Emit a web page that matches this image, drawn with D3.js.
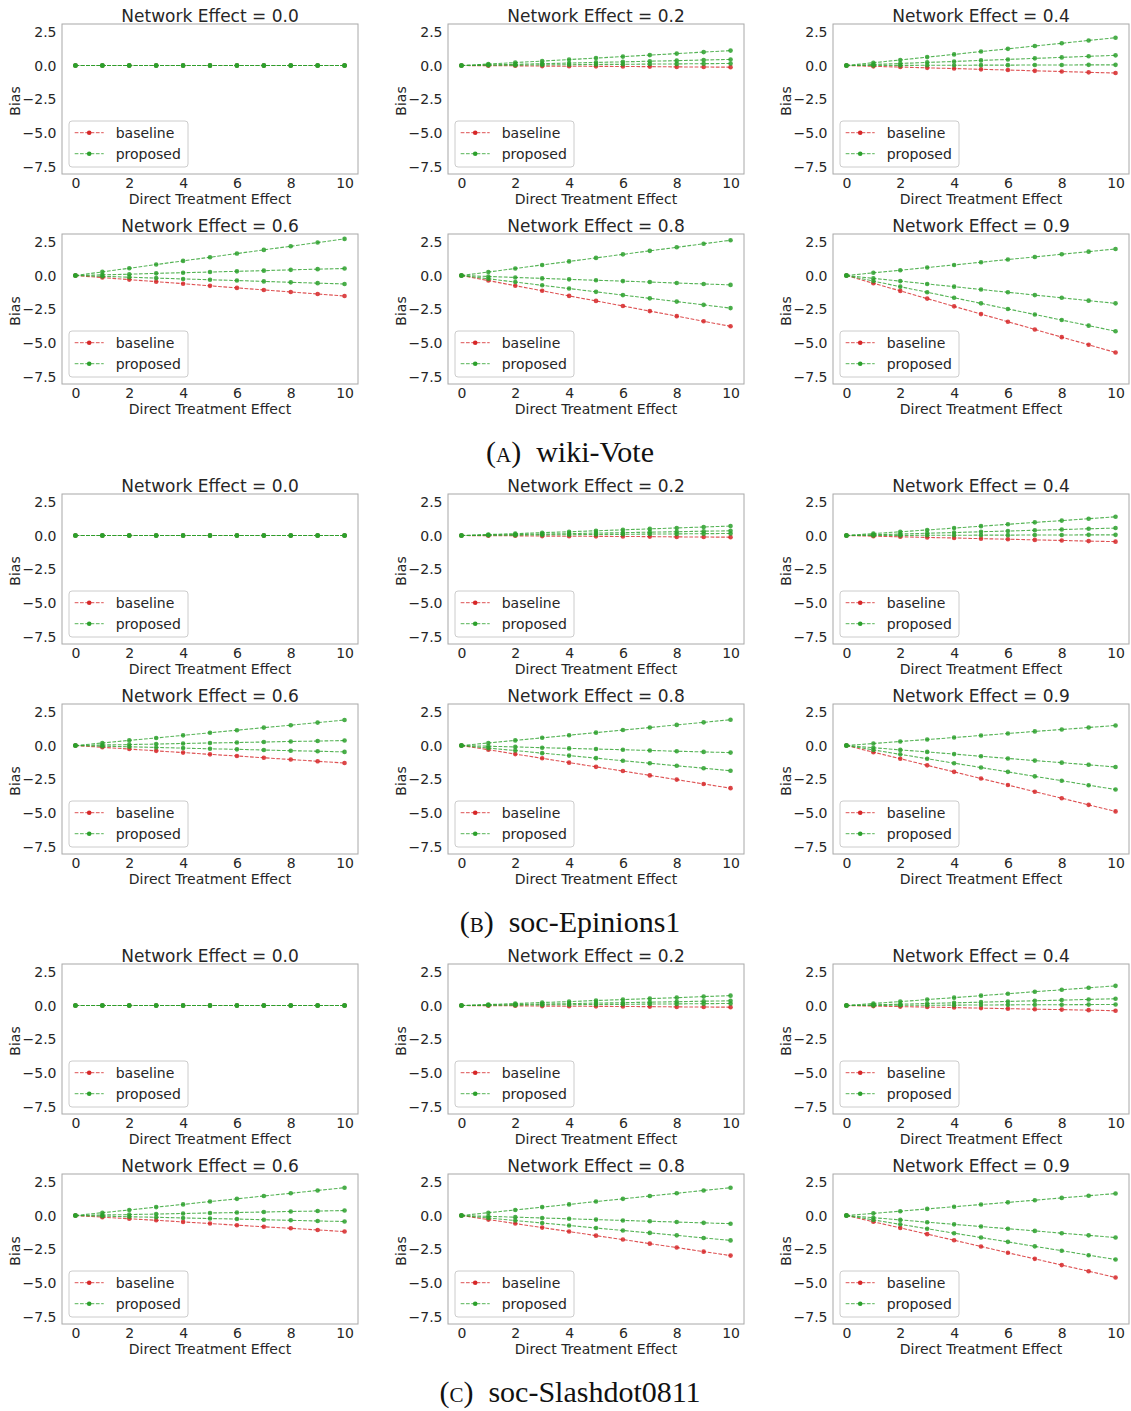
<!DOCTYPE html>
<html>
<head>
<meta charset="utf-8">
<script src="https://cdn.jsdelivr.net/npm/d3@7"></script>
<style>
  body { margin: 0; background: #fff; }
  svg { display: block; }
</style>
</head>
<body>
<div id="chart"></div>
<script>
// Data

var xValues = [0, 1, 2, 3, 4, 5, 6, 7, 8, 9, 10];
var xTicks = [0, 2, 4, 6, 8, 10];
var yTicks = [-7.5, -5.0, -2.5, 0.0, 2.5];
var networkEffects = ["0.0", "0.2", "0.4", "0.6", "0.8", "0.9"];
var datasetNames = ["wiki-Vote", "soc-Epinions1", "soc-Slashdot0811"];
var datasetLetters = ["a", "b", "c"];

var zeros = [0, 0, 0, 0, 0, 0, 0, 0, 0, 0, 0];

// baseline: one series per network effect
var wikiVoteBaseline = [
    zeros,
    [0, -0.01, -0.02, -0.04, -0.05, -0.06, -0.07, -0.08, -0.10, -0.11, -0.12],
    [0, -0.06, -0.11, -0.17, -0.22, -0.28, -0.33, -0.39, -0.44, -0.50, -0.55],
    [0, -0.15, -0.30, -0.45, -0.60, -0.76, -0.91, -1.06, -1.21, -1.36, -1.51],
    [0, -0.37, -0.75, -1.12, -1.50, -1.87, -2.24, -2.62, -2.99, -3.37, -3.74],
    [0, -0.57, -1.13, -1.70, -2.27, -2.84, -3.40, -3.97, -4.54, -5.10, -5.67]
];
// proposed: three series per network effect
var wikiVoteProposed = [
    [zeros, zeros, zeros],
    [
        [0, 0.11, 0.22, 0.33, 0.44, 0.55, 0.66, 0.77, 0.88, 0.99, 1.10],
        [0, 0.05, 0.09, 0.14, 0.18, 0.23, 0.27, 0.32, 0.36, 0.41, 0.45],
        [0, 0.02, 0.03, 0.05, 0.06, 0.08, 0.09, 0.11, 0.12, 0.14, 0.15]
    ],
    [
        [0, 0.21, 0.41, 0.62, 0.82, 1.03, 1.23, 1.44, 1.64, 1.85, 2.05],
        [0, 0.08, 0.15, 0.23, 0.30, 0.38, 0.45, 0.53, 0.60, 0.68, 0.75],
        [0, 0.01, 0.01, 0.02, 0.02, 0.03, 0.03, 0.04, 0.04, 0.05, 0.05]
    ],
    [
        [0, 0.27, 0.54, 0.81, 1.08, 1.35, 1.62, 1.89, 2.16, 2.43, 2.70],
        [0, 0.05, 0.10, 0.16, 0.21, 0.26, 0.31, 0.36, 0.42, 0.47, 0.52],
        [0, -0.06, -0.12, -0.19, -0.25, -0.31, -0.37, -0.43, -0.50, -0.56, -0.62]
    ],
    [
        [0, 0.26, 0.52, 0.78, 1.04, 1.30, 1.56, 1.82, 2.08, 2.34, 2.60],
        [0, -0.07, -0.14, -0.21, -0.28, -0.35, -0.41, -0.48, -0.55, -0.62, -0.69],
        [0, -0.24, -0.48, -0.72, -0.96, -1.20, -1.44, -1.68, -1.92, -2.16, -2.40]
    ],
    [
        [0, 0.20, 0.39, 0.59, 0.78, 0.98, 1.18, 1.37, 1.57, 1.76, 1.96],
        [0, -0.21, -0.41, -0.62, -0.82, -1.03, -1.23, -1.44, -1.64, -1.85, -2.05],
        [0, -0.41, -0.82, -1.23, -1.64, -2.05, -2.46, -2.87, -3.28, -3.69, -4.10]
    ]
];

var epinionsBaseline = [
    zeros,
    [0, -0.01, -0.02, -0.04, -0.05, -0.06, -0.07, -0.08, -0.10, -0.11, -0.12],
    [0, -0.05, -0.09, -0.14, -0.18, -0.23, -0.27, -0.32, -0.36, -0.41, -0.45],
    [0, -0.13, -0.26, -0.39, -0.52, -0.65, -0.77, -0.90, -1.03, -1.16, -1.29],
    [0, -0.31, -0.63, -0.94, -1.26, -1.57, -1.88, -2.20, -2.51, -2.83, -3.14],
    [0, -0.49, -0.97, -1.46, -1.94, -2.43, -2.91, -3.40, -3.88, -4.37, -4.85]
];
var epinionsProposed = [
    [zeros, zeros, zeros],
    [
        [0, 0.07, 0.14, 0.21, 0.28, 0.35, 0.42, 0.49, 0.56, 0.63, 0.70],
        [0, 0.04, 0.07, 0.11, 0.14, 0.18, 0.21, 0.25, 0.28, 0.32, 0.35],
        [0, 0.02, 0.03, 0.05, 0.06, 0.08, 0.09, 0.11, 0.12, 0.14, 0.15]
    ],
    [
        [0, 0.14, 0.28, 0.41, 0.55, 0.69, 0.83, 0.97, 1.10, 1.24, 1.38],
        [0, 0.06, 0.11, 0.17, 0.22, 0.28, 0.33, 0.39, 0.44, 0.50, 0.55],
        [0, 0.01, 0.01, 0.02, 0.02, 0.03, 0.03, 0.04, 0.04, 0.05, 0.05]
    ],
    [
        [0, 0.19, 0.38, 0.56, 0.75, 0.94, 1.13, 1.32, 1.50, 1.69, 1.88],
        [0, 0.04, 0.07, 0.11, 0.15, 0.19, 0.22, 0.26, 0.30, 0.33, 0.37],
        [0, -0.05, -0.09, -0.14, -0.19, -0.24, -0.28, -0.33, -0.38, -0.42, -0.47]
    ],
    [
        [0, 0.19, 0.38, 0.57, 0.76, 0.95, 1.14, 1.33, 1.52, 1.71, 1.90],
        [0, -0.05, -0.10, -0.16, -0.21, -0.26, -0.31, -0.36, -0.42, -0.47, -0.52],
        [0, -0.19, -0.37, -0.56, -0.74, -0.93, -1.12, -1.30, -1.49, -1.67, -1.86]
    ],
    [
        [0, 0.15, 0.30, 0.44, 0.59, 0.74, 0.89, 1.04, 1.18, 1.33, 1.48],
        [0, -0.16, -0.32, -0.47, -0.63, -0.79, -0.95, -1.11, -1.26, -1.42, -1.58],
        [0, -0.32, -0.65, -0.97, -1.30, -1.62, -1.94, -2.27, -2.59, -2.92, -3.24]
    ]
];

var slashdotBaseline = [
    zeros,
    [0, -0.01, -0.02, -0.04, -0.05, -0.06, -0.07, -0.08, -0.10, -0.11, -0.12],
    [0, -0.04, -0.08, -0.11, -0.15, -0.19, -0.23, -0.27, -0.30, -0.34, -0.38],
    [0, -0.12, -0.24, -0.35, -0.47, -0.59, -0.71, -0.83, -0.94, -1.06, -1.18],
    [0, -0.30, -0.59, -0.89, -1.18, -1.48, -1.77, -2.07, -2.36, -2.66, -2.95],
    [0, -0.46, -0.91, -1.37, -1.82, -2.28, -2.74, -3.19, -3.65, -4.10, -4.56]
];
var slashdotProposed = [
    [zeros, zeros, zeros],
    [
        [0, 0.07, 0.15, 0.22, 0.29, 0.37, 0.44, 0.51, 0.58, 0.66, 0.73],
        [0, 0.04, 0.07, 0.11, 0.14, 0.18, 0.21, 0.25, 0.28, 0.32, 0.35],
        [0, 0.02, 0.03, 0.05, 0.06, 0.08, 0.09, 0.11, 0.12, 0.14, 0.15]
    ],
    [
        [0, 0.15, 0.29, 0.44, 0.58, 0.73, 0.87, 1.02, 1.16, 1.31, 1.45],
        [0, 0.05, 0.10, 0.15, 0.20, 0.25, 0.30, 0.35, 0.40, 0.45, 0.50],
        [0, 0.01, 0.02, 0.02, 0.03, 0.04, 0.05, 0.06, 0.06, 0.07, 0.08]
    ],
    [
        [0, 0.21, 0.41, 0.62, 0.82, 1.03, 1.23, 1.44, 1.64, 1.85, 2.05],
        [0, 0.04, 0.07, 0.11, 0.15, 0.19, 0.22, 0.26, 0.30, 0.33, 0.37],
        [0, -0.04, -0.09, -0.13, -0.18, -0.22, -0.26, -0.31, -0.35, -0.40, -0.44]
    ],
    [
        [0, 0.21, 0.41, 0.62, 0.82, 1.03, 1.23, 1.44, 1.64, 1.85, 2.05],
        [0, -0.06, -0.12, -0.18, -0.24, -0.30, -0.36, -0.42, -0.48, -0.54, -0.60],
        [0, -0.18, -0.37, -0.55, -0.73, -0.92, -1.10, -1.28, -1.46, -1.65, -1.83]
    ],
    [
        [0, 0.16, 0.32, 0.49, 0.65, 0.81, 0.97, 1.13, 1.30, 1.46, 1.62],
        [0, -0.16, -0.32, -0.49, -0.65, -0.81, -0.97, -1.13, -1.30, -1.46, -1.62],
        [0, -0.32, -0.65, -0.97, -1.30, -1.62, -1.94, -2.27, -2.59, -2.92, -3.24]
    ]
];

var baselineSets = [wikiVoteBaseline, epinionsBaseline, slashdotBaseline];
var proposedSets = [wikiVoteProposed, epinionsProposed, slashdotProposed];

// Layout
var width = 1131, height = 1411;
var groupOffset = 470;
var colLeft = [62, 448, 833];
var rowTop = [24, 234];
var plotW = 296, plotH = 150;
var red = "#d62728", green = "#2ca02c";
var textColor = "#262626";

var svg = d3.select("#chart").append("svg")
    .attr("width", width)
    .attr("height", height)
    .style("font-family", "'DejaVu Sans', sans-serif");

var x = d3.scaleLinear().domain([-0.5, 10.5]).range([0, plotW]);
var y = d3.scaleLinear().domain([-7.99, 3.06]).range([plotH, 0]);

var line = d3.line()
    .x((d, i) => x(xValues[i]))
    .y((d) => y(d));

function drawSeries(g, values, color) {
    g.append("path")
        .attr("d", line(values))
        .attr("fill", "none")
        .attr("stroke", color)
        .attr("stroke-opacity", 0.8)
        .attr("stroke-width", 1.1)
        .attr("stroke-dasharray", "3.7,1.6");
    g.selectAll(null)
        .data(values)
        .enter()
        .append("circle")
        .attr("cx", (d, i) => x(xValues[i]))
        .attr("cy", (d) => y(d))
        .attr("r", 2.3)
        .attr("fill", color)
        .attr("fill-opacity", 0.85);
}

function drawPanel(g, baseline, proposed, ne) {
    // title
    g.append("text")
        .attr("x", plotW / 2)
        .attr("y", -2.5)
        .attr("text-anchor", "middle")
        .attr("fill", textColor)
        .style("font-size", "17px")
        .text("Network Effect = " + ne);

    // axes (no tick marks, just labels)
    var xAxis = g.append("g")
        .attr("transform", `translate(0,${plotH})`)
        .call(d3.axisBottom(x).tickValues(xTicks).tickSize(0).tickPadding(4.5).tickFormat(d3.format("d")));
    var yAxis = g.append("g")
        .call(d3.axisLeft(y).tickValues(yTicks).tickSize(0).tickPadding(5.5).tickFormat(d3.format(".1f")));
    [xAxis, yAxis].forEach(function(a) {
        a.select(".domain").remove();
        a.selectAll("text")
            .attr("fill", textColor)
            .style("font-size", "14px")
            .style("font-family", "'DejaVu Sans', sans-serif");
    });

    // data lines
    var lines = g.append("g");
    drawSeries(lines, baseline, red);
    proposed.forEach(function(p) {
        drawSeries(lines, p, green);
    });

    // frame
    g.append("rect")
        .attr("width", plotW)
        .attr("height", plotH)
        .attr("fill", "none")
        .attr("stroke", "#a8a8a8")
        .attr("stroke-width", 1);

    // axis labels
    g.append("text")
        .attr("x", plotW / 2)
        .attr("y", plotH + 30)
        .attr("text-anchor", "middle")
        .attr("fill", textColor)
        .style("font-size", "14px")
        .text("Direct Treatment Effect");
    g.append("text")
        .attr("transform", `translate(-47,${plotH / 2 + 2}) rotate(-90)`)
        .attr("text-anchor", "middle")
        .attr("dominant-baseline", "central")
        .attr("fill", textColor)
        .style("font-size", "14px")
        .text("Bias");

    // legend
    var lg = g.append("g").attr("transform", `translate(7,${plotH - 53})`);
    lg.append("rect")
        .attr("width", 119)
        .attr("height", 46)
        .attr("rx", 3)
        .attr("fill", "#fff")
        .attr("fill-opacity", 0.8)
        .attr("stroke", "#cccccc")
        .attr("stroke-width", 1);
    [["baseline", red, 11.7], ["proposed", green, 32.7]].forEach(function(item) {
        lg.append("line")
            .attr("x1", 5.7).attr("x2", 34.7)
            .attr("y1", item[2]).attr("y2", item[2])
            .attr("stroke", item[1])
            .attr("stroke-opacity", 0.8)
            .attr("stroke-dasharray", "3.7,1.6");
        lg.append("circle")
            .attr("cx", 20.2).attr("cy", item[2]).attr("r", 2.3)
            .attr("fill", item[1]);
        lg.append("text")
            .attr("x", 46.7)
            .attr("y", item[2])
            .attr("dominant-baseline", "central")
            .attr("fill", textColor)
            .style("font-size", "14px")
            .text(item[0]);
    });
}

datasetNames.forEach(function(name, di) {
    var top = di * groupOffset;
    networkEffects.forEach(function(ne, k) {
        var row = Math.floor(k / 3), col = k % 3;
        var g = svg.append("g")
            .attr("transform", `translate(${colLeft[col]},${top + rowTop[row]})`);
        drawPanel(g, baselineSets[di][k], proposedSets[di][k], ne);
    });

    // caption, e.g. (A) wiki-Vote
    var cap = svg.append("text")
        .attr("x", 570)
        .attr("y", top + 462)
        .attr("text-anchor", "middle")
        .attr("fill", "#111")
        .style("font-family", "'Liberation Serif', 'DejaVu Serif', serif")
        .style("font-size", "30px");
    cap.append("tspan").text("(");
    cap.append("tspan").style("font-variant", "small-caps").text(datasetLetters[di]);
    cap.append("tspan").text(")\u2002" + name);
});
</script>
</body>
</html>
